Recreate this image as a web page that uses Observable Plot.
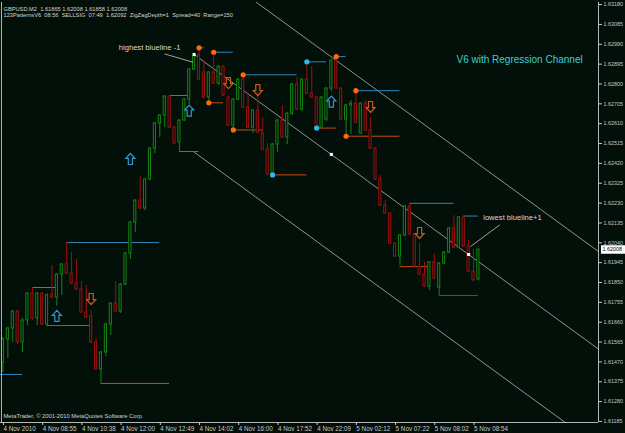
<!DOCTYPE html>
<html><head><meta charset="utf-8">
<script src="https://cdn.jsdelivr.net/npm/d3@7"></script>
<script src="https://cdn.jsdelivr.net/npm/@observablehq/plot@0.6"></script>
<style>
html,body{margin:0;padding:0;background:#030f09;}
#chart{width:625px;height:433px;overflow:hidden;}
</style></head>
<body><div id="chart"></div>
<script>
// ---- candle data (GBPUSD M2) ----
const opens = [1.61467,1.61577,1.61630,1.61711,1.61563,1.61668,1.61797,1.61678,1.61797,1.61649,
1.61793,1.61778,1.61888,1.61936,1.61893,1.61845,1.61816,1.61706,1.61687,1.61563,
1.61434,1.61515,1.61649,1.61749,1.61711,1.61840,1.61989,1.62137,1.62242,1.62204,
1.62343,1.62491,1.62611,1.62649,1.62740,1.62591,1.62520,1.62625,1.62725,1.62869,
1.62936,1.62855,1.62735,1.62855,1.62802,1.62883,1.62735,1.62601,1.62725,1.62821,
1.62687,1.62591,1.62673,1.62563,1.62486,1.62367,1.62510,1.62625,1.62544,1.62658,
1.62797,1.62678,1.62821,1.62754,1.62735,1.62591,1.62630,1.62778,1.62912,1.62778,
1.62630,1.62697,1.62706,1.62563,1.62706,1.62577,1.62491,1.62343,1.62218,1.62180,
1.62036,1.61974,1.62075,1.62214,1.62080,1.61926,1.61888,1.61831,1.61946,1.61826,
1.61941,1.61993,1.62108,1.62017,1.62161,1.62022,1.61902,1.61865];
const highs = [1.61587,1.61635,1.61716,1.61716,1.61678,1.61802,1.61826,1.61802,1.61802,1.61797,
1.61931,1.61893,1.61941,1.62041,1.61993,1.61960,1.61855,1.61836,1.61716,1.61582,
1.61520,1.61654,1.61754,1.61855,1.61845,1.61993,1.62142,1.62247,1.62357,1.62347,
1.62496,1.62615,1.62654,1.62745,1.62745,1.62596,1.62630,1.62730,1.62874,1.62941,
1.62973,1.62912,1.62859,1.62952,1.62888,1.62888,1.62740,1.62730,1.62826,1.62844,
1.62754,1.62678,1.62759,1.62639,1.62515,1.62515,1.62630,1.62697,1.62663,1.62802,
1.62831,1.62826,1.62906,1.62883,1.62740,1.62740,1.62783,1.62917,1.62931,1.62783,
1.62702,1.62721,1.62768,1.62711,1.62721,1.62639,1.62496,1.62362,1.62242,1.62185,
1.62041,1.62080,1.62218,1.62229,1.62084,1.62036,1.61946,1.61950,1.61989,1.61946,
1.61998,1.62113,1.62170,1.62166,1.62168,1.62051,1.62008,1.62008];
const lows = [1.61419,1.61486,1.61563,1.61553,1.61515,1.61644,1.61668,1.61644,1.61644,1.61639,
1.61773,1.61735,1.61788,1.61888,1.61840,1.61812,1.61702,1.61678,1.61558,1.61429,
1.61367,1.61496,1.61596,1.61706,1.61702,1.61836,1.61960,1.62089,1.62199,1.62194,
1.62338,1.62467,1.62544,1.62591,1.62587,1.62510,1.62477,1.62620,1.62702,1.62864,
1.62816,1.62730,1.62710,1.62797,1.62792,1.62740,1.62596,1.62580,1.62721,1.62682,
1.62587,1.62563,1.62563,1.62481,1.62362,1.62365,1.62472,1.62539,1.62510,1.62649,
1.62673,1.62668,1.62749,1.62730,1.62589,1.62587,1.62620,1.62764,1.62773,1.62625,
1.62550,1.62558,1.62611,1.62558,1.62572,1.62486,1.62338,1.62214,1.62175,1.62032,
1.61970,1.61931,1.62070,1.62075,1.61922,1.61883,1.61826,1.61812,1.61864,1.61788,
1.61936,1.61989,1.62013,1.62013,1.62017,1.61898,1.61855,1.61858];
const closes = [1.61577,1.61630,1.61711,1.61563,1.61668,1.61797,1.61678,1.61797,1.61649,1.61788,
1.61778,1.61888,1.61936,1.61893,1.61845,1.61816,1.61706,1.61683,1.61563,1.61434,
1.61515,1.61649,1.61749,1.61711,1.61840,1.61989,1.62137,1.62242,1.62204,1.62343,
1.62491,1.62611,1.62649,1.62740,1.62591,1.62515,1.62625,1.62725,1.62869,1.62936,
1.62821,1.62735,1.62855,1.62802,1.62883,1.62745,1.62601,1.62725,1.62821,1.62687,
1.62591,1.62673,1.62568,1.62486,1.62367,1.62510,1.62625,1.62544,1.62658,1.62797,
1.62678,1.62821,1.62754,1.62735,1.62591,1.62735,1.62778,1.62912,1.62778,1.62630,
1.62697,1.62706,1.62615,1.62706,1.62577,1.62491,1.62343,1.62218,1.62180,1.62036,
1.61974,1.62075,1.62214,1.62080,1.61926,1.61888,1.61831,1.61946,1.61869,1.61941,
1.61993,1.62108,1.62017,1.62161,1.62022,1.61902,1.61860,1.62008];

// ---- axis ticks ----
const xTickIdx = [0,8,16,24,32,40,48,56,64,72,80,88,96];
const xTickLabels = ["4 Nov 2010","4 Nov 08:55","4 Nov 10:38","4 Nov 12:00","4 Nov 12:49","4 Nov 14:02",
  "4 Nov 16:00","4 Nov 17:52","4 Nov 22:09","5 Nov 02:12","5 Nov 07:22","5 Nov 08:02","5 Nov 08:54"];
const yTickLabels = ["1.61185","1.61280","1.61375","1.61470","1.61565","1.61660","1.61755","1.61850",
  "1.61945","1.62040","1.62135","1.62230","1.62325","1.62420","1.62515","1.62610","1.62705","1.62800",
  "1.62895","1.62990","1.63085","1.63180"];
const yTickVals = yTickLabels.map(Number);
const lastPrice = 1.62008;

// ---- indicator levels (start bar, end bar, price) ----
const blueStart = [-0.5,6,13,34,40,43,49,62,68,72,83,94];
const blueEnd   = [4,11,32,38,41,47,60,66,70,81,92,97];
const bluePrice = [1.61410,1.61826,1.62041,1.62745,1.62973,1.62952,1.62844,1.62906,1.62931,1.62768,1.62229,1.62168];
const redStart = [9,20,36,42,47,55,64,70,81];
const redEnd   = [18,34,40,45,53,62,68,81,87];
const redPrice = [1.61644,1.61367,1.62477,1.62710,1.62580,1.62365,1.62589,1.62550,1.61926];
const brownStart = [89], brownEnd = [97], brownPrice = [1.61788];

// zigzag points
const orangeDotIdx = [40,43,42,49,47,68,72,70];
const orangeDotPrice = [1.62973,1.62952,1.62710,1.62844,1.62580,1.62931,1.62768,1.62550];
const cyanDotIdx = [62,64,55];
const cyanDotPrice = [1.62906,1.62589,1.62365];

// pattern arrows
const upArrowIdx = [11,26,38,67];
const upArrowPrice = [1.61690,1.62441,1.62673,1.62716];
const downArrowIdx = [18,46,52,75,85];
const downArrowPrice = [1.61771,1.62804,1.62771,1.62690,1.62087];

// regression channel
const regIdx = [39,95];
const regMid = [1.62941,1.61984];
const regDev = 0.00467;
const regMarkIdx = [39,67,95];
const regMarkPrice = [1.62941,1.62463,1.61984];
const rightEdge = 121.5;

// ---- build ----
const candles = opens.map((o,i)=>({i,o,h:highs[i],l:lows[i],c:closes[i]}));
const ups = candles.filter(d=>d.c>=d.o), downs = candles.filter(d=>d.c<d.o);
const seg = (s,e,p)=>s.map((v,k)=>({i1:v,i2:e[k],p:p[k]}));
const pts = (ix,pr)=>ix.map((v,k)=>({i:v,p:pr[k]}));
const slope = (regMid[1]-regMid[0])/(regIdx[1]-regIdx[0]);
const regLines = [0,regDev,-regDev].map(off=>({x1:regIdx[0],y1:regMid[0]+off,x2:rightEdge,y2:regMid[0]+off+slope*(rightEdge-regIdx[0])}));
const xLab = new Map(xTickIdx.map((v,k)=>[v,xTickLabels[k]]));
const yLab = new Map(yTickVals.map((v,k)=>[v,yTickLabels[k]]));

const arrowUp = {draw(ctx,size){const r=Math.sqrt(size/Math.PI);
  ctx.moveTo(0,-r);ctx.lineTo(0.82*r,-0.1*r);ctx.lineTo(0.38*r,-0.1*r);ctx.lineTo(0.38*r,r);
  ctx.lineTo(-0.38*r,r);ctx.lineTo(-0.38*r,-0.1*r);ctx.lineTo(-0.82*r,-0.1*r);ctx.closePath();}};
const arrowDown = {draw(ctx,size){const r=Math.sqrt(size/Math.PI);
  ctx.moveTo(0,r);ctx.lineTo(0.82*r,0.1*r);ctx.lineTo(0.38*r,0.1*r);ctx.lineTo(0.38*r,-r);
  ctx.lineTo(-0.38*r,-r);ctx.lineTo(-0.38*r,0.1*r);ctx.lineTo(-0.82*r,0.1*r);ctx.closePath();}};

const BG="#030f09", GREEN="#128612", RED="#9e1010", AXIS="#b8b8b8", TXT="#d4d4d4";
const F="Liberation Sans, Arial, sans-serif";

const chart = Plot.plot({
  width:625, height:433, marginLeft:0, marginRight:27, marginTop:2, marginBottom:11,
  x:{type:"linear", domain:[-0.5,rightEdge]},
  y:{domain:[1.6118,1.6319]},
  style:{background:BG, color:TXT, fontFamily:F},
  marks:[
    // regression channel
    Plot.link(regLines,{x1:"x1",y1:"y1",x2:"x2",y2:"y2",stroke:"#b4b4b4",strokeWidth:0.8,clip:true}),
    // levels
    Plot.ruleY(seg(blueStart,blueEnd,bluePrice),{y:"p",x1:"i1",x2:"i2",stroke:"#2e88bd",strokeWidth:1}),
    Plot.ruleY(seg(redStart,redEnd,redPrice),{y:"p",x1:"i1",x2:"i2",stroke:"#cc4a12",strokeWidth:1}),
    Plot.ruleY(seg(brownStart,brownEnd,brownPrice),{y:"p",x1:"i1",x2:"i2",stroke:"#9a3a12",strokeWidth:1}),
    // wicks
    Plot.ruleX(ups,{x:"i",y1:"l",y2:"h",stroke:GREEN,strokeWidth:1}),
    Plot.ruleX(downs,{x:"i",y1:"l",y2:"h",stroke:RED,strokeWidth:1}),
    // bodies
    Plot.rect(ups,{x1:d=>d.i-0.22,x2:d=>d.i+0.22,y1:"o",y2:"c",fill:BG,stroke:GREEN,strokeWidth:1}),
    Plot.rect(downs,{x1:d=>d.i-0.22,x2:d=>d.i+0.22,y1:"o",y2:"c",fill:BG,stroke:RED,strokeWidth:1}),
    // zigzag dots
    Plot.dot(pts(orangeDotIdx,orangeDotPrice),{x:"i",y:"p",r:2.6,fill:"#ff680c"}),
    Plot.dot(pts(cyanDotIdx,cyanDotPrice),{x:"i",y:"p",r:2.6,fill:"#2fb8f0"}),
    // arrows
    Plot.dot(pts(upArrowIdx,upArrowPrice),{x:"i",y:"p",r:5.5,symbol:arrowUp,fill:"none",stroke:"#2f9cd0",strokeWidth:1.2}),
    Plot.dot(pts(downArrowIdx,downArrowPrice),{x:"i",y:"p",r:5.5,symbol:arrowDown,fill:"none",stroke:"#c85a1c",strokeWidth:1.2}),
    // regression markers
    Plot.dot(pts(regMarkIdx,regMarkPrice),{x:"i",y:"p",r:1.7,symbol:"square",fill:"#ffffff"}),
    // annotations
    Plot.link([{x1:32.96,y1:1.62944,x2:38.81,y2:1.62904},{x1:95.39,y1:1.62022,x2:101.37,y2:1.62126}],
      {x1:"x1",y1:"y1",x2:"x2",y2:"y2",stroke:"#b0b0b0",strokeWidth:0.9}),
    Plot.text([{i:23.63,p:1.62973,t:"highest blueline -1"},{i:97.98,p:1.62161,t:"lowest blueline+1"}],
      {x:"i",y:"p",text:"t",textAnchor:"start",fontSize:7.6,fill:"#d8d8d8"}),
    Plot.text(["V6 with Regression Channel"],{frameAnchor:"top-left",dx:456,dy:53,textAnchor:"start",fontSize:10,fill:"#3ccfd4"}),
    Plot.text(["GBPUSD,M2  1.61865 1.62008 1.61858 1.62008"],{frameAnchor:"top-left",dx:3,dy:4.5,textAnchor:"start",fontSize:5.7,fill:TXT}),
    Plot.text(["123PatternsV6  08:56  SELLSIG  07:49  1.62092  ZigZagDepth=1  Spread=40  Range=150"],{frameAnchor:"top-left",dx:3,dy:10.5,textAnchor:"start",fontSize:5.7,fill:TXT}),
    Plot.text(["MetaTrader, © 2001-2010 MetaQuotes Software Corp."],{frameAnchor:"bottom-left",dx:3,dy:-5,textAnchor:"start",fontSize:5.8,fill:TXT}),
    // frame
    Plot.ruleX([-0.3],{stroke:AXIS}),
    Plot.ruleX([rightEdge],{stroke:AXIS}),
    Plot.ruleY([1.6118],{stroke:AXIS}),
    // axes
    Plot.axisY({anchor:"right",ticks:yTickVals,tickFormat:d=>yLab.get(d),tickSize:3,tickPadding:2,fontSize:5.4,color:"#c8c8c8",label:null}),
    Plot.axisX({ticks:xTickIdx,tickFormat:d=>xLab.get(d),tickSize:3,tickPadding:1,textAnchor:"start",dx:0.5,fontSize:6.3,color:"#c8c8c8",label:null}),
    // current price box
    Plot.ruleY([lastPrice],{x1:122.1,x2:127.5,stroke:"#ffffff",strokeWidth:8.5}),
    Plot.text([lastPrice],{x:122.3,y:d=>d,text:d=>d.toFixed(5),textAnchor:"start",fontSize:5.4,fill:"#000000"})
  ]
});
document.getElementById("chart").appendChild(chart);
</script>
</body></html>
